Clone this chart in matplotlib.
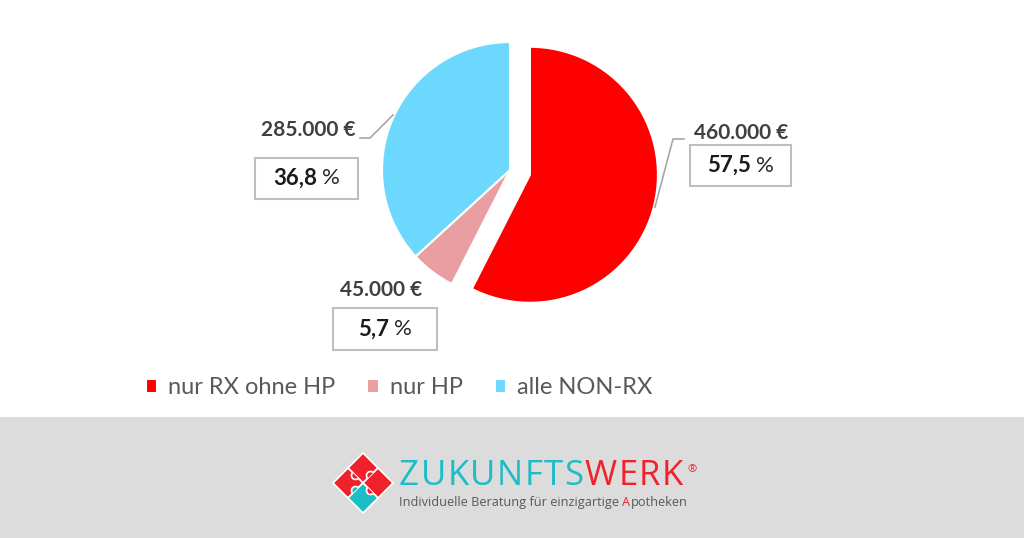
import matplotlib.pyplot as plt
from matplotlib.patches import Rectangle, Polygon, Wedge, Arc

plt.rcParams['font.family'] = ['Lato', 'DejaVu Sans']

# data
segments = ["nur RX ohne HP", "nur HP", "alle NON-RX"]
shares = [57.5, 5.7, 36.8]
amount_labels = ["460.000 €", "45.000 €", "285.000 €"]
share_labels = ["57,5", "5,7", "36,8"]
seg_colors = ["#FF0000", "#E99FA1", "#6DD8FE"]

W, H = 1024, 538


def fy(y):
    # pixel row (from top) -> data y (from bottom)
    return H - y


fig = plt.figure(figsize=(W / 100, H / 100), dpi=100)
ax = fig.add_axes([0, 0, 1, 1])
renderer = fig.canvas.get_renderer()

# grey footer band
ax.add_patch(Rectangle((0, 0), W, fy(417), facecolor="#DCDCDC", edgecolor="none", zorder=0))

wedges, _ = ax.pie(shares, colors=seg_colors, startangle=90, counterclock=False,
                   explode=[20.5, 0, 0], center=(510, fy(170)), radius=128,
                   wedgeprops=dict(edgecolor="white", linewidth=1.5), frame=True)
ax.set_xlim(0, W)
ax.set_ylim(0, H)
ax.set_aspect("auto")
ax.axis("off")

# label layout (pixel positions from the top-left)
amount_pos = [(741, 133), (381, 290), (308, 130)]
boxes = [(690, 145, 101, 41), (333, 308, 104, 42), (255, 158, 103, 41)]
leaders = [[(684, 139), (673, 139), (655, 207)], None, [(360, 138), (370, 138), (393, 115)]]

for i in range(3):
    ax.text(amount_pos[i][0], fy(amount_pos[i][1]), amount_labels[i], fontsize=15,
            fontweight="bold", color="#404040", ha="center", va="center")
    bx, by, bw, bh = boxes[i]
    ax.add_patch(Rectangle((bx, fy(by + bh)), bw, bh, facecolor="white",
                           edgecolor="#BFBFBF", linewidth=1.5, zorder=3))
    cx, cy = bx + bw / 2, fy(by + bh / 2)
    t1 = ax.text(0, cy, share_labels[i], fontsize=16, fontweight="bold",
                 color="#1A1A1A", va="center", zorder=4)
    t2 = ax.text(0, cy, "%", fontsize=16, color="#262626", va="center", zorder=4)
    w1 = t1.get_window_extent(renderer).width
    w2 = t2.get_window_extent(renderer).width
    x0 = cx - (w1 + 5 + w2) / 2
    t1.set_x(x0)
    t2.set_x(x0 + w1 + 5)
    if leaders[i]:
        xs = [p[0] for p in leaders[i]]
        ys = [fy(p[1]) for p in leaders[i]]
        ax.plot(xs, ys, color="#A6A6A6", linewidth=1.2)

ax.legend(wedges, segments, loc="center", bbox_to_anchor=(399 / W, fy(388) / H),
          ncol=3, frameon=False, fontsize=17, labelcolor="#595959",
          handlelength=0.5, handleheight=0.5, handletextpad=0.45, columnspacing=1.35)

# logo: puzzle diamond
lx, ly, s = 363, fy(483), 15
red, teal = "#F0212B", "#1BBDC6"
for (dx, dy), c in [((0, s), red), ((-s, 0), red), ((s, 0), red), ((0, -s), teal)]:
    px, py = lx + dx, ly + dy
    ax.add_patch(Polygon([(px - s, py), (px, py + s), (px + s, py), (px, py - s)],
                         closed=True, facecolor=c, edgecolor="white", linewidth=1.2, zorder=3))
# knobs: (seam midpoint, direction, colour)
for (mx, my), ang, c in [((-7.5, 7.5), 225, red), ((7.5, 7.5), 135, red),
                         ((-7.5, -7.5), 135, teal), ((7.5, -7.5), 225, red)]:
    ax.add_patch(Wedge((lx + mx, ly + my), 4, ang - 90, ang + 90,
                       facecolor=c, edgecolor="none", zorder=4))
    ax.add_patch(Arc((lx + mx, ly + my), 8, 8, theta1=ang - 90, theta2=ang + 90,
                     color="white", linewidth=1.2, zorder=5))


def spaced(x0, y, text, colors, size, width):
    ts = [ax.text(0, y, ch, color=c, fontsize=size, family="Open Sans", va="baseline")
          for ch, c in zip(text, colors)]
    ws = [t.get_window_extent(renderer).width for t in ts]
    gap = (width - sum(ws)) / (len(ts) - 1)
    x = x0
    for t, w in zip(ts, ws):
        t.set_x(x)
        x += w + gap


spaced(399, fy(485), "ZUKUNFTSWERK", [teal] * 8 + [red] * 4, 25, 284)
ax.text(687, fy(470), "®", color=red, fontsize=8, family="Open Sans", va="center")

# tagline, with a red "A"
base = fy(506)
part1, part2 = "Individuelle Beratung für einzigartige", "potheken"
probe = ax.text(0, base, part1 + " Apotheken", fontsize=10, family="Open Sans")
size = 10 * 288 / probe.get_window_extent(renderer).width
probe.remove()
kw = dict(fontsize=size, family="Open Sans", va="baseline")
ax.text(399, base, part1, color="#595959", **kw)
probe = ax.text(0, base, part1 + " A", **kw)
wa = probe.get_window_extent(renderer).width
probe.remove()
tA = ax.text(0, base, "A", color=red, **kw)
wA = tA.get_window_extent(renderer).width
tA.set_x(399 + wa - wA)
ax.text(399 + wa + 0.5, base, part2, color="#595959", **kw)

fig.savefig("out.png", dpi=100)
